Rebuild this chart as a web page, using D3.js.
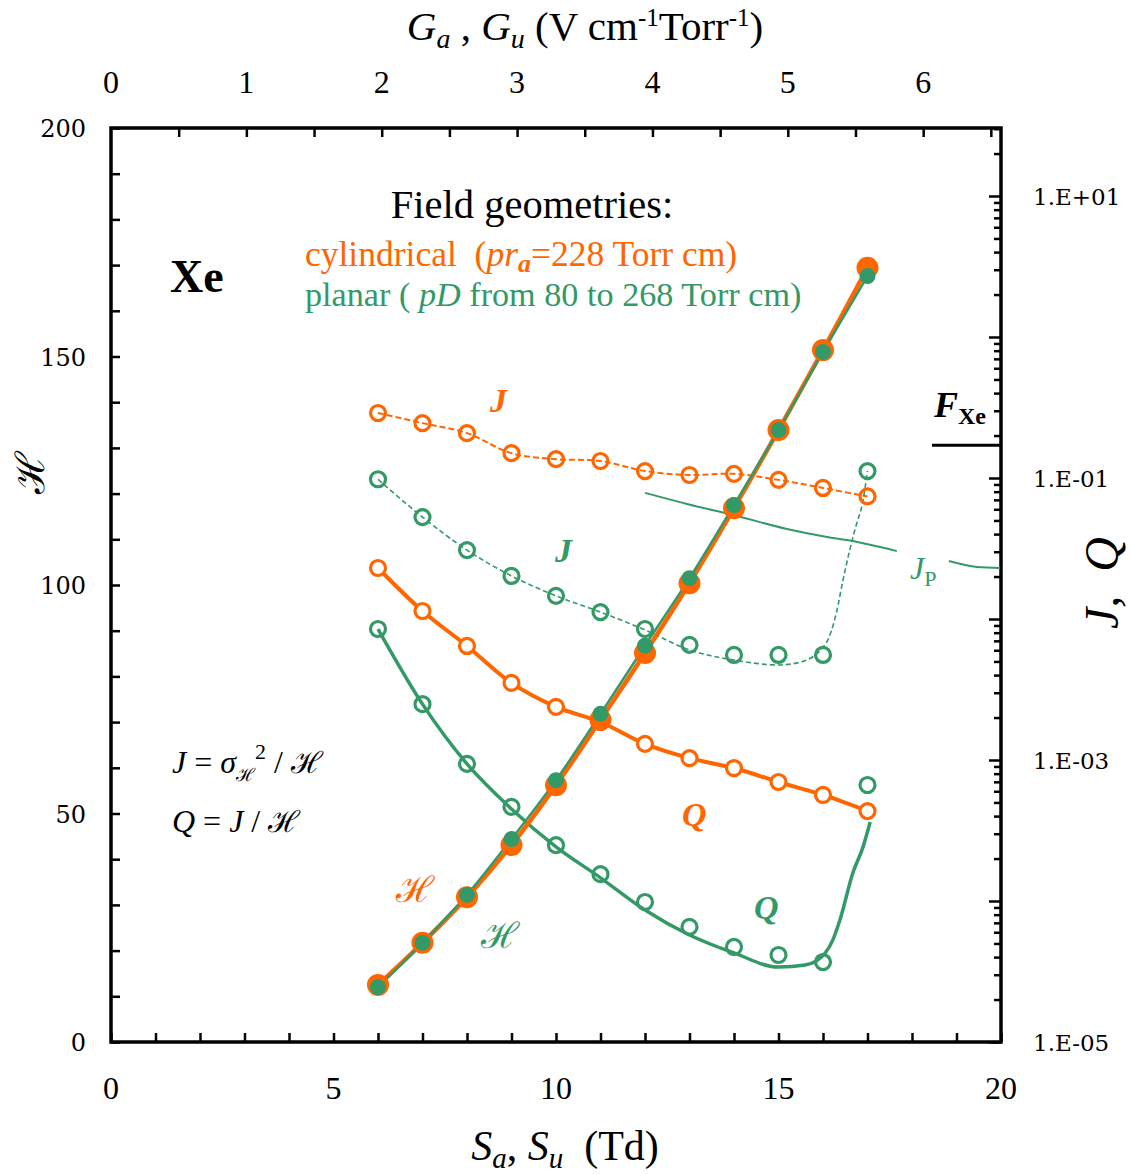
<!DOCTYPE html>
<html>
<head>
<meta charset="utf-8">
<script src="https://cdn.jsdelivr.net/npm/d3@7"></script>
<style>
  html, body { margin: 0; padding: 0; background: #fff; }
  svg { display: block; }
</style>
</head>
<body>
<svg id="chart" width="1133" height="1175" font-family="Liberation Serif, Times New Roman, serif"></svg>
<script>
// ---- data: reduced field S (Td) ----
const S = [6, 7, 8, 9, 10, 11, 12, 13, 14, 15, 16, 17];

// mean energy gain H (left axis)
const hCyl    = [12.5, 21.7, 31.7, 43.1, 56.2, 70.5, 85.1, 100.4, 116.8, 133.9, 151.4, 169.4];
const hPlanar = [12.0, 21.7, 32.2, 44.4, 57.3, 71.8, 86.7, 101.5, 117.5, 133.9, 151.0, 167.6];

// J and Q (right, log axis)
const jCyl    = [0.289, 0.245, 0.208, 0.150, 0.136, 0.132, 0.112, 0.105, 0.107, 0.097, 0.085, 0.074];
const jPlanar = [0.098, 0.0528, 0.0308, 0.0202, 0.0146, 0.0112, 0.00849, 0.00655, 0.00556, 0.00556, 0.00556, 0.112];
const qCyl    = [0.0230, 0.0114, 0.00644, 0.00352, 0.00238, 0.00186, 0.00130, 0.00103, 0.000877, 0.000698, 0.000565, 0.000434];
const qPlanar = [0.00849, 0.00249, 0.000938, 0.000465, 0.000249, 0.000155, 0.0000984, 0.0000655, 0.0000472, 0.0000414, 0.0000369, 0.000665];

// smoothed trend curves for the planar geometry
const jPlanarFitS = [6, 7, 8, 9, 10, 11, 12, 13, 14, 15, 15.5, 16.07, 16.3, 16.45, 16.6, 16.76, 16.88, 17];
const jPlanarFitV = [0.098, 0.0528, 0.0308, 0.0202, 0.0146, 0.0112, 0.00836, 0.00603, 0.00512, 0.00472, 0.00495, 0.00676, 0.01104, 0.01892, 0.0308, 0.0480, 0.0644, 0.112];
const qPlanarFitS = [6, 7, 8, 9, 10, 11, 12, 13, 14, 15, 15.6, 15.85, 16.05, 16.22, 16.38, 16.67, 16.9, 17.06];
const qPlanarFitV = [0.00849, 0.00249, 0.000938, 0.000449, 0.000242, 0.000146, 0.0000863, 0.0000574, 0.0000428, 0.0000340, 0.0000352, 0.0000375, 0.0000428, 0.0000528, 0.0000733, 0.000158, 0.000242, 0.000363];

// J_P reference line (planar)
const jpS = [12.0, 12.94, 13.98, 15.19, 16.09, 16.54, 17.66, 18.83, 19.46, 19.98];
const jpV = [0.0784, 0.0655, 0.0547, 0.0435, 0.0382, 0.0363, 0.0303, 0.0258, 0.0234, 0.0230];
const jpGapFrom = 17.66, jpGapTo = 18.83;

// F_Xe level marker
const fXe = 0.171;
const fXeS = [18.45, 20];

// axis ticks
const sTicks = d3.range(0, 21, 1);
const sLabels = [0, 5, 10, 15, 20];
const hTicks = d3.range(0, 201, 10);
const hLabels = [0, 50, 100, 150, 200];
const gTicks = d3.range(0.5, 6.51, 0.5);
const gLabels = [0, 1, 2, 3, 4, 5, 6];
const logLabels = [1e-5, 1e-3, 1e-1, 1e1];
const logLabelText = ["1.E-05", "1.E-03", "1.E-01", "1.E+01"];

// ---- layout ----
const L = 111, R = 1001, T = 128, B = 1042;
const ORANGE = "#FF6600", GREEN = "#339966";
const SCRIPT = "DejaVu Serif";
const NB = "\u00A0";

const svg = d3.select("#chart");

const x = d3.scaleLinear([0, 20], [L, R]);
const xG = d3.scaleLinear([0, 6.575], [L, R]);
const yH = d3.scaleLinear([0, 200], [B, T]);
const yLog = d3.scaleLog([1e-5, Math.pow(10, -5 + (B - T) / 141)], [B, T]);

// ---- axes ----
function styleAxis(g) {
  g.select(".domain").remove();
  g.selectAll("line").attr("stroke", "#000").attr("stroke-width", 2.5);
}

// bottom
svg.append("g").attr("transform", `translate(0,${B})`)
  .call(d3.axisBottom(x).tickValues(sTicks).tickSize(-9).tickFormat(""))
  .call(styleAxis);
svg.append("g").selectAll("text").data(sLabels).join("text")
  .attr("x", d => x(d)).attr("y", 1099).attr("text-anchor", "middle")
  .attr("font-size", 32).text(d => d);

// top
svg.append("g").attr("transform", `translate(0,${T})`)
  .call(d3.axisTop(xG).tickValues(gTicks).tickSize(-9).tickFormat(""))
  .call(styleAxis);
svg.append("g").selectAll("text").data(gLabels).join("text")
  .attr("x", d => xG(d)).attr("y", 93).attr("text-anchor", "middle")
  .attr("font-size", 32).text(d => d);

// left
svg.append("g").attr("transform", `translate(${L},0)`)
  .call(d3.axisLeft(yH).tickValues(hTicks).tickSize(-9).tickFormat(""))
  .call(styleAxis);
svg.append("g").selectAll("text").data(hLabels).join("text")
  .attr("x", 86).attr("y", d => yH(d) + 9).attr("text-anchor", "end")
  .attr("font-family", "DejaVu Serif").attr("font-size", 24).text(d => d);

// right (log)
const logMinor = [];
for (let e = -5; e <= 1; e++) for (let m = 1; m <= 9; m++) {
  const v = m * Math.pow(10, e);
  if (v <= yLog.domain()[1]) logMinor.push(v);
}
const isDecade = v => Math.abs(Math.log10(v) - Math.round(Math.log10(v))) < 1e-9;
svg.append("g").attr("transform", `translate(${R},0)`)
  .call(d3.axisRight(yLog).tickValues(logMinor.filter(v => !isDecade(v))).tickSize(-7).tickFormat(""))
  .call(styleAxis);
svg.append("g").attr("transform", `translate(${R},0)`)
  .call(d3.axisRight(yLog).tickValues(logMinor.filter(isDecade)).tickSize(-12).tickFormat(""))
  .call(styleAxis);
svg.append("g").selectAll("text").data(logLabels).join("text")
  .attr("x", 1033).attr("y", d => yLog(d) + 9)
  .attr("font-family", "DejaVu Serif").attr("font-size", 23)
  .text((d, i) => logLabelText[i]);

// frame
svg.append("rect").attr("x", L).attr("y", T).attr("width", R - L).attr("height", B - T)
  .attr("fill", "none").attr("stroke", "#000").attr("stroke-width", 3.5);

// ---- axis titles ----
const bt = svg.append("text").attr("x", 565).attr("y", 1160).attr("text-anchor", "middle").attr("font-size", 42);
bt.append("tspan").attr("font-style", "italic").text("S");
bt.append("tspan").attr("font-style", "italic").attr("font-size", 29).attr("dy", 8).text("a");
bt.append("tspan").attr("dy", -8).text(", ");
bt.append("tspan").attr("font-style", "italic").text("S");
bt.append("tspan").attr("font-style", "italic").attr("font-size", 29).attr("dy", 8).text("u");
bt.append("tspan").attr("dy", -8).text(NB + NB + "(Td)");

const tt = svg.append("text").attr("x", 585).attr("y", 40).attr("text-anchor", "middle").attr("font-size", 41);
tt.append("tspan").attr("font-style", "italic").text("G");
tt.append("tspan").attr("font-style", "italic").attr("font-size", 28).attr("dy", 8).text("a");
tt.append("tspan").attr("dy", -8).text(" , ");
tt.append("tspan").attr("font-style", "italic").text("G");
tt.append("tspan").attr("font-style", "italic").attr("font-size", 28).attr("dy", 8).text("u");
tt.append("tspan").attr("dy", -8).text(" (V cm");
tt.append("tspan").attr("font-size", 25).attr("dy", -14).text("-1");
tt.append("tspan").attr("dy", 14).text("Torr");
tt.append("tspan").attr("font-size", 25).attr("dy", -14).text("-1");
tt.append("tspan").attr("dy", 14).text(")");

svg.append("text").attr("transform", "translate(44,473) rotate(-90)")
  .attr("text-anchor", "middle").attr("font-family", SCRIPT)
  .attr("font-size", 40).text("ℋ");

svg.append("text").attr("transform", "translate(1118,583) rotate(-90)")
  .attr("text-anchor", "middle").attr("font-style", "italic").attr("font-size", 48).text("J," + NB + NB + "Q");

// ---- curves ----
const lineH = d3.line().x((d, i) => x(S[i])).y(d => yH(d)).curve(d3.curveCatmullRom);
const lineLog = xs => d3.line().x((d, i) => x(xs[i])).y(d => yLog(d)).curve(d3.curveCatmullRom);
const lineMono = xs => d3.line().x((d, i) => x(xs[i])).y(d => yLog(d)).curve(d3.curveMonotoneX);

// cylindrical J (dashed)
svg.append("path").attr("d", lineLog(S)(jCyl)).attr("fill", "none")
  .attr("stroke", ORANGE).attr("stroke-width", 2).attr("stroke-dasharray", "6,3");
// planar J fit (dashed)
svg.append("path").attr("d", lineMono(jPlanarFitS)(jPlanarFitV)).attr("fill", "none")
  .attr("stroke", GREEN).attr("stroke-width", 1.6).attr("stroke-dasharray", "5,3");
// J_P line with a gap for its label
const jpPts = jpS.map((s, i) => [s, jpV[i]]);
[jpPts.filter(p => p[0] <= jpGapFrom), jpPts.filter(p => p[0] >= jpGapTo)].forEach(seg => {
  svg.append("path")
    .attr("d", d3.line().x(p => x(p[0])).y(p => yLog(p[1])).curve(d3.curveMonotoneX)(seg))
    .attr("fill", "none").attr("stroke", GREEN).attr("stroke-width", 2);
});
// F_Xe level
svg.append("line").attr("x1", x(fXeS[0])).attr("x2", x(fXeS[1]))
  .attr("y1", yLog(fXe)).attr("y2", yLog(fXe)).attr("stroke", "#000").attr("stroke-width", 3);

// Q curves
svg.append("path").attr("d", lineLog(S)(qCyl)).attr("fill", "none")
  .attr("stroke", ORANGE).attr("stroke-width", 4);
svg.append("path").attr("d", lineMono(qPlanarFitS)(qPlanarFitV)).attr("fill", "none")
  .attr("stroke", GREEN).attr("stroke-width", 3.5);

// H curves
svg.append("path").attr("d", lineH(hCyl)).attr("fill", "none")
  .attr("stroke", ORANGE).attr("stroke-width", 4.5);
svg.append("path").attr("d", lineH(hPlanar)).attr("fill", "none")
  .attr("stroke", GREEN).attr("stroke-width", 2.5);

// ---- markers ----
function openMarkers(vals, color, fill) {
  svg.append("g").selectAll("circle").data(vals).join("circle")
    .attr("cx", (d, i) => x(S[i])).attr("cy", d => yLog(d)).attr("r", 7.5)
    .attr("fill", fill).attr("stroke", color).attr("stroke-width", 3.2);
}
openMarkers(jCyl, ORANGE, "none");
openMarkers(jPlanar, GREEN, "none");
openMarkers(qCyl, ORANGE, "#fff");
openMarkers(qPlanar, GREEN, "none");

svg.append("g").selectAll("circle").data(hCyl).join("circle")
  .attr("cx", (d, i) => x(S[i])).attr("cy", d => yH(d)).attr("r", 11).attr("fill", ORANGE);
svg.append("g").selectAll("circle").data(hPlanar).join("circle")
  .attr("cx", (d, i) => x(S[i])).attr("cy", d => yH(d)).attr("r", 8).attr("fill", GREEN);

// ---- annotations ----
svg.append("text").attr("x", 532).attr("y", 218).attr("text-anchor", "middle")
  .attr("font-size", 40.5).text("Field geometries:");

const cyl = svg.append("text").attr("x", 305).attr("y", 266).attr("font-size", 35.5).attr("fill", ORANGE);
cyl.append("tspan").text("cylindrical" + NB + NB + "(");
cyl.append("tspan").attr("font-style", "italic").text("pr");
cyl.append("tspan").attr("font-style", "italic").attr("font-weight", "bold").attr("font-size", 26).attr("dy", 6).text("a");
cyl.append("tspan").attr("dy", -6).text("=228 Torr cm)");

const pl = svg.append("text").attr("x", 305).attr("y", 306).attr("font-size", 34.2).attr("fill", GREEN);
pl.append("tspan").text("planar ( ");
pl.append("tspan").attr("font-style", "italic").text("pD");
pl.append("tspan").text(" from 80 to 268 Torr cm)");

svg.append("text").attr("x", 170).attr("y", 292).attr("font-size", 46).attr("font-weight", "bold").text("Xe");

function label(txt, xx, yy, color, size) {
  svg.append("text").attr("x", xx).attr("y", yy).attr("font-size", size)
    .attr("font-style", "italic").attr("font-weight", "bold").attr("fill", color).text(txt);
}
function scriptLabel(xx, yy, color, size) {
  svg.append("text").attr("x", xx).attr("y", yy).attr("font-size", size)
    .attr("font-family", SCRIPT).attr("fill", color).text("ℋ");
}
label("J", 490, 412, ORANGE, 34);
label("J", 555, 562, GREEN, 34);
label("Q", 682, 826, ORANGE, 34);
label("Q", 754, 919, GREEN, 34);
scriptLabel(396, 902, ORANGE, 36);
scriptLabel(481, 948, GREEN, 36);

// formulas
const f1 = svg.append("text").attr("x", 172).attr("y", 773).attr("font-size", 32).attr("font-style", "italic");
f1.append("tspan").text("J");
f1.append("tspan").attr("font-style", "normal").text(" = ");
f1.append("tspan").text("σ");
f1.append("tspan").attr("font-family", SCRIPT).attr("font-style", "normal").attr("font-size", 18).attr("dy", 8).text("ℋ");
f1.append("tspan").attr("font-style", "normal").attr("font-size", 22).attr("dy", -22).text("2");
f1.append("tspan").attr("font-style", "normal").attr("dy", 14).text(" / ");
f1.append("tspan").attr("font-family", SCRIPT).attr("font-style", "normal").attr("font-size", 30).text("ℋ");

const f2 = svg.append("text").attr("x", 172).attr("y", 832).attr("font-size", 32).attr("font-style", "italic");
f2.append("tspan").text("Q");
f2.append("tspan").attr("font-style", "normal").text(" = ");
f2.append("tspan").text("J");
f2.append("tspan").attr("font-style", "normal").text(" / ");
f2.append("tspan").attr("font-family", SCRIPT).attr("font-style", "normal").attr("font-size", 30).text("ℋ");

// J_P label
const jp = svg.append("text").attr("x", 910).attr("y", 579).attr("font-size", 32).attr("fill", GREEN);
jp.append("tspan").attr("font-style", "italic").text("J");
jp.append("tspan").attr("font-size", 22).attr("dy", 7).text("P");

// F_Xe label
const fx = svg.append("text").attr("x", 934).attr("y", 417).attr("font-size", 36).attr("font-weight", "bold");
fx.append("tspan").attr("font-style", "italic").text("F");
fx.append("tspan").attr("font-size", 24).attr("dy", 7).text("Xe");
</script>
</body>
</html>
